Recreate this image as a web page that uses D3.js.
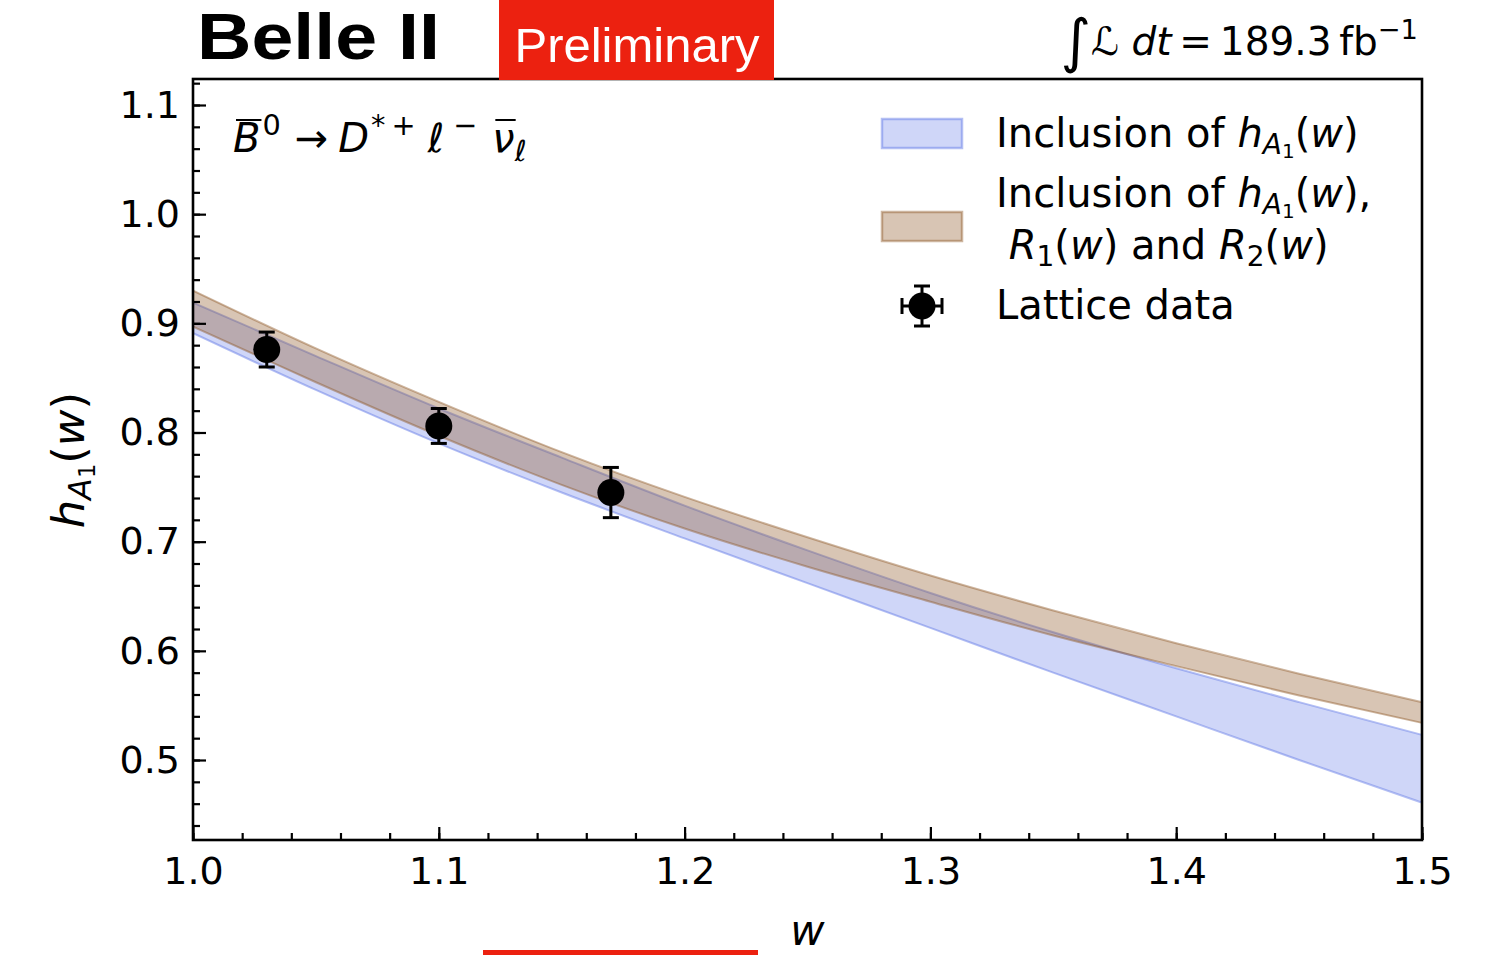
<!DOCTYPE html>
<html>
<head>
<meta charset="utf-8">
<script src="https://cdn.jsdelivr.net/npm/d3@7"></script>
<style>
  body { margin: 0; background: #fff; }
  svg { display: block; }
</style>
</head>
<body>
<div id="chart-area"></div>
<script>
// DATA
var wGrid   = [1.00, 1.05, 1.10, 1.15, 1.20, 1.25, 1.30, 1.35, 1.40, 1.45, 1.50];
// band 1: inclusion of hA1(w) only
var hA1Hi   = [0.919, 0.870, 0.822, 0.777, 0.733, 0.692, 0.653, 0.617, 0.584, 0.553, 0.523];
var hA1Lo   = [0.891, 0.839, 0.790, 0.745, 0.703, 0.662, 0.621, 0.580, 0.540, 0.500, 0.461];
// band 2: inclusion of hA1(w), R1(w) and R2(w)
var combHi  = [0.930, 0.877, 0.828, 0.782, 0.741, 0.704, 0.669, 0.637, 0.607, 0.579, 0.553];
var combLo  = [0.897, 0.846, 0.797, 0.752, 0.712, 0.677, 0.645, 0.614, 0.586, 0.559, 0.534];
// lattice points
var latticeW   = [1.03, 1.10, 1.17];
var latticeH   = [0.876, 0.806, 0.745];
var latticeErr = [0.016, 0.016, 0.023];

var xTicks = [1.0, 1.1, 1.2, 1.3, 1.4, 1.5];
var yTicks = [0.5, 0.6, 0.7, 0.8, 0.9, 1.0, 1.1];

var W = 1486, H = 955;
var pLeft = 193, pRight = 1422, pTop = 79, pBottom = 840;
var FONT = "'DejaVu Sans', sans-serif";
var BLUE = "rgb(106,127,232)", BROWN = "rgb(145,91,43)";

var svg = d3.select("#chart-area")
    .append("svg")
        .attr("width", W)
        .attr("height", H);

// SCALES
var x = d3.scaleLinear().domain([1.0, 1.5]).range([pLeft, pRight]);
var y = d3.scaleLinear().domain([0.5, 1.1]).range([760, 105]);

// BANDS
svg.append("defs").append("clipPath").attr("id", "plotclip")
    .append("rect")
        .attr("x", pLeft).attr("y", pTop)
        .attr("width", pRight - pLeft).attr("height", pBottom - pTop);

var plot = svg.append("g").attr("clip-path", "url(#plotclip)");

function band(lo, hi, fill, alpha, strokeAlpha) {
    var rows = wGrid.map(function(w, i) { return {w: w, lo: lo[i], hi: hi[i]}; });
    var area = d3.area()
        .x(function(d) { return x(d.w); })
        .y0(function(d) { return y(d.lo); })
        .y1(function(d) { return y(d.hi); })
        .curve(d3.curveMonotoneX);
    plot.append("path")
        .datum(rows)
        .attr("d", area)
        .attr("fill", fill)
        .attr("fill-opacity", alpha);
    ["lo", "hi"].forEach(function(k) {
        var line = d3.line()
            .x(function(d) { return x(d.w); })
            .y(function(d) { return y(d[k]); })
            .curve(d3.curveMonotoneX);
        plot.append("path")
            .datum(rows)
            .attr("d", line)
            .attr("fill", "none")
            .attr("stroke", fill)
            .attr("stroke-opacity", strokeAlpha)
            .attr("stroke-width", 2);
    });
}

band(hA1Lo, hA1Hi, BLUE, 0.32, 0.5);
band(combLo, combHi, BROWN, 0.354, 0.45);

// LATTICE POINTS
var pts = latticeW.map(function(w, i) { return {w: w, h: latticeH[i], e: latticeErr[i]}; });
var pg = svg.append("g");
pts.forEach(function(d) {
    var cx = x(d.w), y0 = y(d.h - d.e), y1 = y(d.h + d.e);
    pg.append("line").attr("x1", cx).attr("x2", cx).attr("y1", y0).attr("y2", y1)
        .attr("stroke", "#000").attr("stroke-width", 3);
    [y0, y1].forEach(function(yy) {
        pg.append("line").attr("x1", cx - 8).attr("x2", cx + 8).attr("y1", yy).attr("y2", yy)
            .attr("stroke", "#000").attr("stroke-width", 3);
    });
    pg.append("circle").attr("cx", cx).attr("cy", y(d.h)).attr("r", 13.5).attr("fill", "#000");
});

// AXES (ticks inward)
var xMinor = d3.range(1.0, 1.5001, 0.02).map(function(v) { return +v.toFixed(2); });
var yMinor = d3.range(0.44, 1.1201, 0.02).map(function(v) { return +v.toFixed(2); });

var xAxisMinor = svg.append("g")
    .attr("transform", "translate(0," + pBottom + ")")
    .call(d3.axisBottom(x).tickValues(xMinor).tickSize(-7).tickFormat(""));
var xAxis = svg.append("g")
    .attr("transform", "translate(0," + pBottom + ")")
    .call(d3.axisBottom(x).tickValues(xTicks).tickSize(-13).tickPadding(17)
        .tickFormat(d3.format(".1f")));
var yAxisMinor = svg.append("g")
    .attr("transform", "translate(" + pLeft + ",0)")
    .call(d3.axisLeft(y).tickValues(yMinor).tickSize(-7).tickFormat(""));
var yAxis = svg.append("g")
    .attr("transform", "translate(" + pLeft + ",0)")
    .call(d3.axisLeft(y).tickValues(yTicks).tickSize(-13).tickPadding(13)
        .tickFormat(d3.format(".1f")));

[xAxisMinor, xAxis, yAxisMinor, yAxis].forEach(function(a) {
    a.select(".domain").remove();
    a.selectAll(".tick line").attr("stroke", "#000").attr("stroke-width", 2.2);
    a.selectAll("text")
        .attr("font-family", FONT)
        .attr("font-size", 38)
        .attr("fill", "#000");
});

svg.append("rect")
    .attr("x", pLeft).attr("y", pTop)
    .attr("width", pRight - pLeft).attr("height", pBottom - pTop)
    .attr("fill", "none")
    .attr("stroke", "#000")
    .attr("stroke-width", 2.6);

// MATH TEXT HELPER
function mathText(g, px, py, size, parts, anchor) {
    var t = g.append("text")
        .attr("x", px).attr("y", py)
        .attr("font-family", FONT)
        .attr("font-size", size)
        .attr("text-anchor", anchor || "start")
        .style("white-space", "pre");
    var cur = 0;
    var bars = [];
    parts.forEach(function(p) {
        var off = p.off || 0;
        var ts = t.append("tspan")
            .attr("dy", off - cur)
            .attr("font-style", p.it ? "italic" : "normal")
            .attr("font-size", (p.s || 1) * size)
            .text(p.t);
        if (p.dx) ts.attr("dx", p.dx);
        if (p.bar) bars.push(ts);
        cur = off;
    });
    bars.forEach(function(ts) {
        var b = ts.node().getBBox();
        g.append("line")
            .attr("x1", b.x + 3).attr("x2", b.x + b.width + 1)
            .attr("y1", b.y + 5).attr("y2", b.y + 5)
            .attr("stroke", "#000").attr("stroke-width", 2);
    });
    return t;
}

var hA1 = [
    {t: "h", it: 1},
    {t: "A", it: 1, s: 0.7, off: 7},
    {t: "1", s: 0.5, off: 11},
    {t: "(", off: 0},
    {t: "w", it: 1},
    {t: ")"}
];

// LEGEND
var legend = svg.append("g");
legend.append("rect")
    .attr("x", 882).attr("y", 119).attr("width", 80).attr("height", 29)
    .attr("fill", BLUE).attr("fill-opacity", 0.32)
    .attr("stroke", BLUE).attr("stroke-opacity", 0.5).attr("stroke-width", 2.5);
legend.append("rect")
    .attr("x", 882).attr("y", 212).attr("width", 80).attr("height", 29)
    .attr("fill", BROWN).attr("fill-opacity", 0.354)
    .attr("stroke", BROWN).attr("stroke-opacity", 0.45).attr("stroke-width", 2.5);

var mx = 922, my = 306;
legend.append("line").attr("x1", mx).attr("x2", mx).attr("y1", my - 20).attr("y2", my + 20)
    .attr("stroke", "#000").attr("stroke-width", 3);
legend.append("line").attr("x1", mx - 21).attr("x2", mx + 21).attr("y1", my).attr("y2", my)
    .attr("stroke", "#000").attr("stroke-width", 3);
[-20, 20].forEach(function(o) {
    legend.append("line").attr("x1", mx - 8).attr("x2", mx + 8).attr("y1", my + o).attr("y2", my + o)
        .attr("stroke", "#000").attr("stroke-width", 3);
    legend.append("line").attr("x1", mx + o).attr("x2", mx + o).attr("y1", my - 8).attr("y2", my + 8)
        .attr("stroke", "#000").attr("stroke-width", 3);
});
legend.append("circle").attr("cx", mx).attr("cy", my).attr("r", 13.5).attr("fill", "#000");

mathText(legend, 996, 147, 40, [{t: "Inclusion of "}].concat(hA1));
mathText(legend, 996, 207, 40, [{t: "Inclusion of "}].concat(hA1).concat([{t: ","}]));
mathText(legend, 996, 259, 40, [
    {t: " "}, {t: "R", it: 1}, {t: "1", s: 0.7, off: 7}, {t: "(", off: 0}, {t: "w", it: 1},
    {t: ") and "}, {t: "R", it: 1}, {t: "2", s: 0.7, off: 7}, {t: "(", off: 0}, {t: "w", it: 1}, {t: ")"}
]);
mathText(legend, 996, 319, 40, [{t: "Lattice data"}]);

// PROCESS LABEL
mathText(svg, 233, 152, 40, [
    {t: "B", it: 1, bar: 1},
    {t: "0", s: 0.72, off: -17, dx: 2},
    {t: "\u2192", off: 0, dx: 14},
    {t: "D", it: 1, dx: 10},
    {t: "*", s: 0.72, off: -17, dx: 2},
    {t: "+", s: 0.72, off: -17, dx: 6},
    {t: "\u2113", it: 1, off: 0, dx: 12},
    {t: "\u2212", s: 0.72, off: -17, dx: 9},
    {t: "\u03bd", it: 1, bar: 1, off: 0, dx: 15},
    {t: "\u2113", it: 1, s: 0.72, off: 9}
]);

// AXIS LABELS
mathText(svg, (pLeft + pRight) / 2, 945, 42, [{t: "w", it: 1}], "middle");
var yl = svg.append("g").attr("transform", "translate(84,460) rotate(-90)");
mathText(yl, 0, 0, 45, hA1, "middle");

// HEADER
svg.append("text")
    .attr("x", 197).attr("y", 59)
    .attr("font-family", "'Liberation Sans', Arial, sans-serif")
    .attr("font-weight", "bold")
    .attr("font-size", 64)
    .attr("textLength", 243)
    .attr("lengthAdjust", "spacingAndGlyphs")
    .text("Belle II");

svg.append("rect")
    .attr("x", 499).attr("y", 0).attr("width", 275).attr("height", 80)
    .attr("fill", "#ec2110");
svg.append("text")
    .attr("x", 637).attr("y", 62)
    .attr("text-anchor", "middle")
    .attr("font-family", "'Liberation Sans', Arial, sans-serif")
    .attr("font-size", 49)
    .attr("fill", "#fff")
    .text("Preliminary");

mathText(svg, 1418, 55, 39, [
    {t: "\u222b", s: 1.5, off: 6},
    {t: "\u2112", it: 1, off: 0},
    {t: " "},
    {t: "dt", it: 1},
    {t: "\u2009=\u2009189.3\u2009fb"},
    {t: "\u22121", s: 0.7, off: -16}
], "end");

// red strip at the bottom
svg.append("rect")
    .attr("x", 483).attr("y", 950).attr("width", 275).attr("height", 5)
    .attr("fill", "#ec2110");
</script>
</body>
</html>
